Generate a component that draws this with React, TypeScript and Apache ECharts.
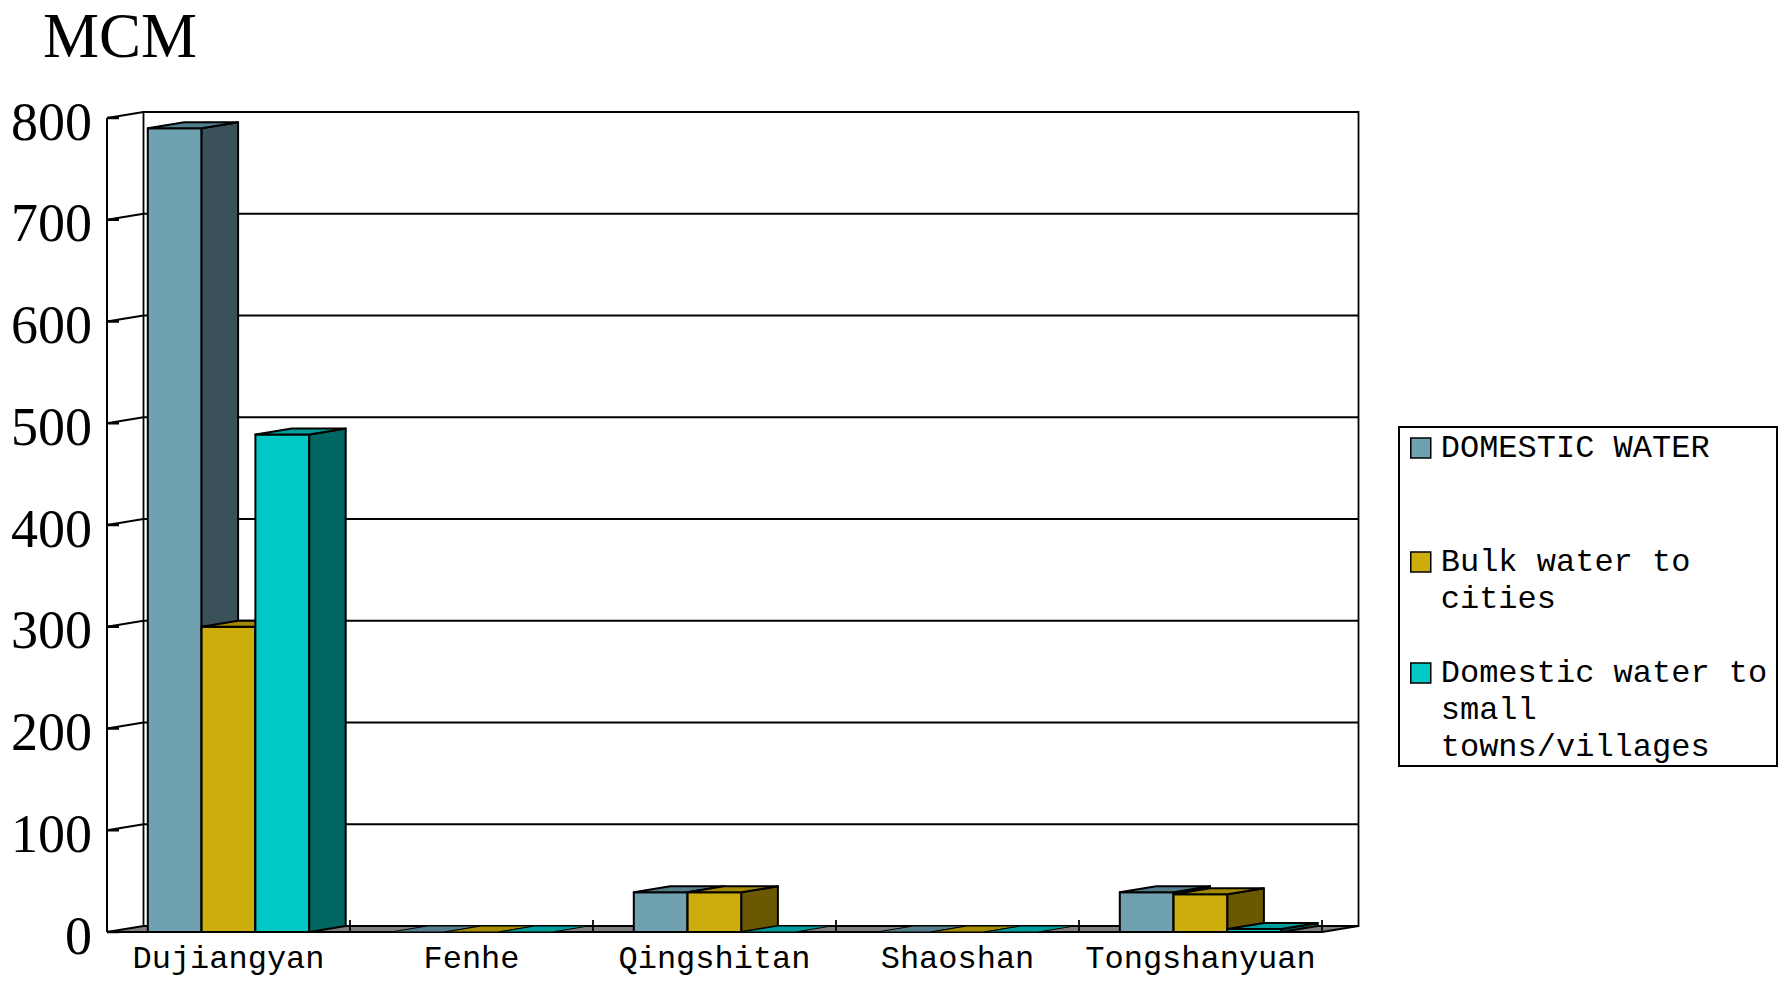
import React, { useEffect, useRef } from 'react';
import * as echarts from 'echarts';

const categories = ['Dujiangyan', 'Fenhe', 'Qingshitan', 'Shaoshan', 'Tongshanyuan'];
const domesticWater = [790, 0, 39, 0, 39];
const bulkWaterToCities = [300, 0, 39, 0, 37];
const domesticWaterSmallTowns = [489, 0, 0, 0, 3];
const seriesNames = ['DOMESTIC WATER', 'Bulk water to cities', 'Domestic water to small towns/villages'];
const legendLabels = ['DOMESTIC WATER', 'Bulk water to\ncities', 'Domestic water to\nsmall\ntowns/villages'];
const yTicks = [0, 100, 200, 300, 400, 500, 600, 700, 800];
const yAxisTitle = 'MCM';

const seriesValues = [domesticWater, bulkWaterToCities, domesticWaterSmallTowns];

const palette = [
  { front: '#6fa1b0', top: '#527d8b', side: '#3a5159' },
  { front: '#ccad0c', top: '#a38a00', side: '#6a5900' },
  { front: '#00c8c4', top: '#009e9a', side: '#006662' },
];

const DX = 36.5;
const DY = -6;
const BAR_FRAC = 0.2214;
const LEG_LH = 37.3;
const ICON = 20;
const legendIconTops = [438, 552, 663];
const MONO = '"Liberation Mono", "DejaVu Sans Mono", monospace';
const SERIF = '"Liberation Serif", "Times New Roman", serif';

function frameRender(params: any, api: any) {
  const cs = params.coordSys;
  const x0 = cs.x;
  const x1 = cs.x + cs.width;
  const yOf = (v: number) => api.coord([0, v])[1];
  const yb = yOf(yTicks[0]);
  const yt = yOf(yTicks[yTicks.length - 1]);
  const ln = { stroke: '#000', lineWidth: 1.8, fill: 'none' };
  const children: any[] = [];
  children.push({
    type: 'polygon',
    shape: { points: [[x0 + DX, yt + DY], [x1 + DX, yt + DY], [x1 + DX, yb + DY], [x0 + DX, yb + DY]] },
    style: { fill: '#fff', stroke: '#000', lineWidth: 1.8 },
  });
  yTicks.forEach((v) => {
    if (v === yTicks[0]) return;
    const y = yOf(v);
    children.push({ type: 'line', shape: { x1: x0 + DX, y1: y + DY, x2: x1 + DX, y2: y + DY }, style: ln });
    children.push({ type: 'line', shape: { x1: x0, y1: y, x2: x0 + DX, y2: y + DY }, style: ln });
  });
  children.push({
    type: 'polygon',
    shape: { points: [[x0, yb], [x1, yb], [x1 + DX, yb + DY], [x0 + DX, yb + DY]] },
    style: { fill: '#808080', stroke: '#000', lineWidth: 2 },
  });
  children.push({ type: 'line', shape: { x1: x0, y1: yt, x2: x0, y2: yb }, style: { stroke: '#000', lineWidth: 2 } });
  yTicks.forEach((v) => {
    const y = yOf(v);
    children.push({ type: 'line', shape: { x1: x0, y1: y, x2: x0 + 12, y2: y }, style: { stroke: '#000', lineWidth: 2.5 } });
  });
  const catW = cs.width / categories.length;
  for (let k = 1; k <= categories.length; k++) {
    const x = x0 + k * catW;
    children.push({ type: 'line', shape: { x1: x, y1: yb + DY - 6, x2: x, y2: yb }, style: { stroke: '#000', lineWidth: 1.8 } });
  }
  return { type: 'group', children };
}

function makeBarRender(s: number) {
  return (params: any, api: any) => {
    const ci = api.value(0);
    const v = api.value(1);
    const base = api.coord([ci, 0]);
    const topP = api.coord([ci, v]);
    const catW = api.size([1, 0])[0];
    const bw = catW * BAR_FRAC;
    const x0 = base[0] - 1.5 * bw + s * bw;
    const x1 = x0 + bw;
    const yb = base[1];
    const yt = topP[1];
    const c = palette[s];
    const flat = yb - yt < 0.5;
    const st = { stroke: '#000', lineWidth: flat ? 1 : 2, lineJoin: 'round' };
    const children: any[] = [];
    if (!flat) {
      children.push({ type: 'rect', shape: { x: x0, y: yt, width: bw, height: yb - yt }, style: { fill: c.front, ...st } });
      children.push({
        type: 'polygon',
        shape: { points: [[x1, yt], [x1 + DX, yt + DY], [x1 + DX, yb + DY], [x1, yb]] },
        style: { fill: c.side, ...st },
      });
    }
    children.push({
      type: 'polygon',
      shape: { points: [[x0, yt], [x1, yt], [x1 + DX, yt + DY], [x0 + DX, yt + DY]] },
      style: { fill: c.top, ...st },
    });
    return { type: 'group', children };
  };
}

export default function App() {
  const ref = useRef<HTMLDivElement>(null);
  useEffect(() => {
    if (!ref.current) return;
    const chart = echarts.init(ref.current, null, { renderer: 'svg' });
    const legends = seriesNames.map((name, k) => {
      const n = legendLabels[k].split('\n').length;
      // leading blank lines keep the first text line level with the icon
      const text = ' \n'.repeat(n - 1) + legendLabels[k];
      return {
        data: [{ name, itemStyle: { color: palette[k].front, borderColor: '#000', borderWidth: 1.5 } }],
        orient: 'vertical',
        left: 1410,
        top: legendIconTops[k] - ((2 * n - 1) * LEG_LH / 2 - ICON / 2),
        padding: 0,
        itemWidth: ICON,
        itemHeight: ICON,
        icon: 'rect',
        selectedMode: false,
        formatter: () => text,
        textStyle: { fontFamily: MONO, fontSize: 32, color: '#000', lineHeight: LEG_LH, padding: [0, 0, 0, 5] },
      };
    });
    chart.setOption({
      animation: false,
      backgroundColor: '#fff',
      grid: { left: 107, top: 118, width: 1215, height: 814, containLabel: false },
      xAxis: {
        type: 'category',
        data: categories,
        axisLine: { show: false },
        axisTick: { show: false },
        splitLine: { show: false },
        axisLabel: { fontFamily: MONO, fontSize: 32, color: '#000', margin: 11, interval: 0 },
      },
      yAxis: {
        type: 'value',
        min: yTicks[0],
        max: yTicks[yTicks.length - 1],
        interval: 100,
        axisLine: { show: false },
        axisTick: { show: false },
        splitLine: { show: false },
        axisLabel: { fontFamily: SERIF, fontSize: 54, color: '#000', margin: 15, verticalAlign: 'top', lineHeight: 7 },
      },
      legend: legends,
      graphic: [
        { type: 'text', left: 43, top: 4, style: { text: yAxisTitle, font: `63px ${SERIF}`, fill: '#000' } },
        {
          type: 'rect',
          shape: { x: 1399, y: 427, width: 378, height: 339 },
          style: { fill: 'none', stroke: '#000', lineWidth: 2 },
          z: 10,
        },
      ],
      series: [
        {
          type: 'custom',
          name: '__frame',
          renderItem: frameRender,
          data: [[0, 0]],
          encode: { x: 0, y: 1 },
          silent: true,
          z: 1,
        },
        ...seriesNames.map((name, s) => ({
          type: 'custom',
          name,
          renderItem: makeBarRender(s),
          data: categories.map((_, i) => [i, seriesValues[s][i]]),
          encode: { x: 0, y: 1 },
          itemStyle: { color: palette[s].front },
          z: 2 + s,
        })),
      ],
    });
    return () => chart.dispose();
  }, []);
  return <div ref={ref} style={{ position: 'fixed', left: 0, top: 0, width: 1787, height: 987 }} />;
}
